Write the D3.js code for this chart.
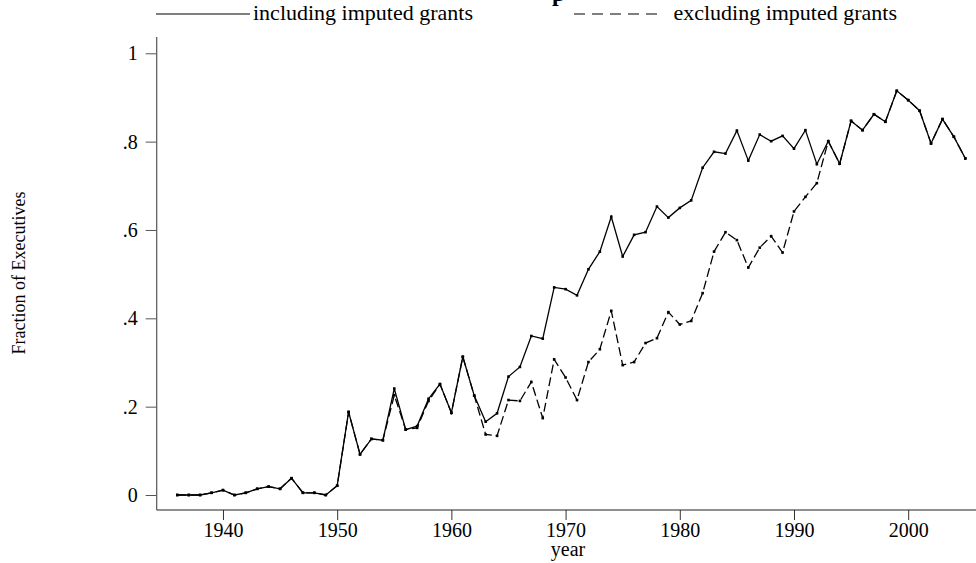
<!DOCTYPE html>
<html>
<head>
<meta charset="utf-8">
<script src="https://cdn.jsdelivr.net/npm/d3@7"></script>
<style>
  body { margin: 0; background: #fff; }
  text { font-family: "Liberation Serif", "Times New Roman", serif; fill: #000; }
</style>
</head>
<body>
<div id="chart-area"></div>
<script>
var years = d3.range(1936, 2006)

var including = [
    0, 0, 0, 0.005, 0.011, 0, 0.005, 0.014, 0.019, 0.014,          // 1936-45
    0.038, 0.005, 0.005, 0, 0.021, 0.188, 0.092, 0.127, 0.124, 0.241, // 1946-55
    0.148, 0.156, 0.218, 0.251, 0.186, 0.313, 0.225, 0.166, 0.185, 0.268, // 1956-65
    0.290, 0.360, 0.354, 0.470, 0.466, 0.452, 0.511, 0.551, 0.630, 0.540, // 1966-75
    0.589, 0.595, 0.653, 0.628, 0.650, 0.667, 0.741, 0.777, 0.773, 0.825, // 1976-85
    0.757, 0.816, 0.801, 0.813, 0.784, 0.826, 0.749, 0.801, 0.750, 0.847, // 1986-95
    0.826, 0.862, 0.845, 0.915, 0.894, 0.870, 0.796, 0.851, 0.811, 0.762  // 1996-2005
]

var excluding = [
    0, 0, 0, 0.005, 0.011, 0, 0.005, 0.014, 0.019, 0.014,
    0.038, 0.005, 0.005, 0, 0.021, 0.188, 0.092, 0.127, 0.124, 0.226,
    0.148, 0.152, 0.213, 0.251, 0.186, 0.313, 0.225, 0.137, 0.134, 0.215,
    0.213, 0.256, 0.174, 0.307, 0.266, 0.215, 0.301, 0.330, 0.417, 0.294,
    0.301, 0.344, 0.355, 0.414, 0.386, 0.394, 0.457, 0.551, 0.595, 0.577,
    0.515, 0.560, 0.586, 0.549, 0.642, 0.675, 0.706, 0.801, 0.750, 0.847,
    0.826, 0.862, 0.845, 0.915, 0.894, 0.870, 0.796, 0.851, 0.811, 0.762
]

var xTicks = [1940, 1950, 1960, 1970, 1980, 1990, 2000]
var yTicks = [0, 0.2, 0.4, 0.6, 0.8, 1]
var legendLabels = ["including imputed grants", "excluding imputed grants"]

var cw = 976
var ch = 563

var svg = d3.select("#chart-area").append("svg")
    .attr("width", cw)
    .attr("height", ch)

var x = d3.scaleLinear()
    .domain([1936, 2005])
    .range([177.3, 965.3])

var y = d3.scaleLinear()
    .domain([0, 1])
    .range([495, 53.3])

// clipped title descender at the very top
svg.append("text")
    .attr("x", 552)
    .attr("y", 1)
    .attr("font-size", "24px")
    .attr("font-weight", "bold")
    .text("p")

// legend
svg.append("line")
    .attr("x1", 156).attr("x2", 250)
    .attr("y1", 14).attr("y2", 14)
    .attr("stroke", "#000").attr("stroke-width", 1.2)
svg.append("text")
    .attr("x", 253).attr("y", 20)
    .attr("font-size", "22px")
    .text(legendLabels[0])
svg.append("line")
    .attr("x1", 574).attr("x2", 664)
    .attr("y1", 14).attr("y2", 14)
    .attr("stroke", "#000").attr("stroke-width", 1.2)
    .attr("stroke-dasharray", "11,7")
svg.append("text")
    .attr("x", 897).attr("y", 20)
    .attr("font-size", "22px")
    .attr("text-anchor", "end")
    .text(legendLabels[1])

// axes
var yAxisGroup = svg.append("g")
    .attr("transform", "translate(156.7, 0)")
    .call(d3.axisLeft(y)
        .tickValues(yTicks)
        .tickSize(11)
        .tickPadding(8)
        .tickFormat(d => d === 0 ? "0" : d === 1 ? "1" : d3.format(".1f")(d).replace(/^0/, "")))
yAxisGroup.select(".domain").remove()
yAxisGroup.selectAll("line").attr("stroke", "#555")
yAxisGroup.selectAll("text")
    .attr("font-size", "20px")
    .attr("font-family", "Liberation Serif, serif")
    .attr("fill", "#000")
svg.append("line")
    .attr("x1", 156.7).attr("x2", 156.7)
    .attr("y1", 37).attr("y2", 510)
    .attr("stroke", "#555").attr("stroke-width", 1.2)

var xAxisGroup = svg.append("g")
    .attr("transform", "translate(0, 510)")
    .call(d3.axisBottom(x)
        .tickValues(xTicks)
        .tickSize(10)
        .tickPadding(3)
        .tickFormat(d3.format("d")))
xAxisGroup.select(".domain").remove()
xAxisGroup.selectAll("line").attr("stroke", "#333")
xAxisGroup.selectAll("text")
    .attr("font-size", "20px")
    .attr("font-family", "Liberation Serif, serif")
    .attr("fill", "#000")
svg.append("line")
    .attr("x1", 156.7).attr("x2", 976)
    .attr("y1", 510).attr("y2", 510)
    .attr("stroke", "#222").attr("stroke-width", 1.2)

svg.append("text")
    .attr("x", 568)
    .attr("y", 556)
    .attr("font-size", "20px")
    .attr("text-anchor", "middle")
    .text("year")

svg.append("text")
    .attr("transform", "translate(25, 273) rotate(-90)")
    .attr("font-size", "18px")
    .attr("text-anchor", "middle")
    .text("Fraction of Executives")

// lines
var line = d3.line()
    .x((d, i) => x(years[i]))
    .y(d => y(d))

svg.append("path")
    .datum(excluding)
    .attr("d", line)
    .attr("fill", "none")
    .attr("stroke", "#000")
    .attr("stroke-width", 1.3)
    .attr("stroke-dasharray", "9,4")

svg.append("path")
    .datum(including)
    .attr("d", line)
    .attr("fill", "none")
    .attr("stroke", "#000")
    .attr("stroke-width", 1.3)

var series = [including, excluding]
series.forEach(s => {
    svg.append("g").selectAll("rect")
        .data(s)
        .enter()
        .append("rect")
        .attr("x", (d, i) => x(years[i]) - 1.3)
        .attr("y", d => y(d) - 1.3)
        .attr("width", 2.6)
        .attr("height", 2.6)
        .attr("fill", "#000")
})
</script>
</body>
</html>
